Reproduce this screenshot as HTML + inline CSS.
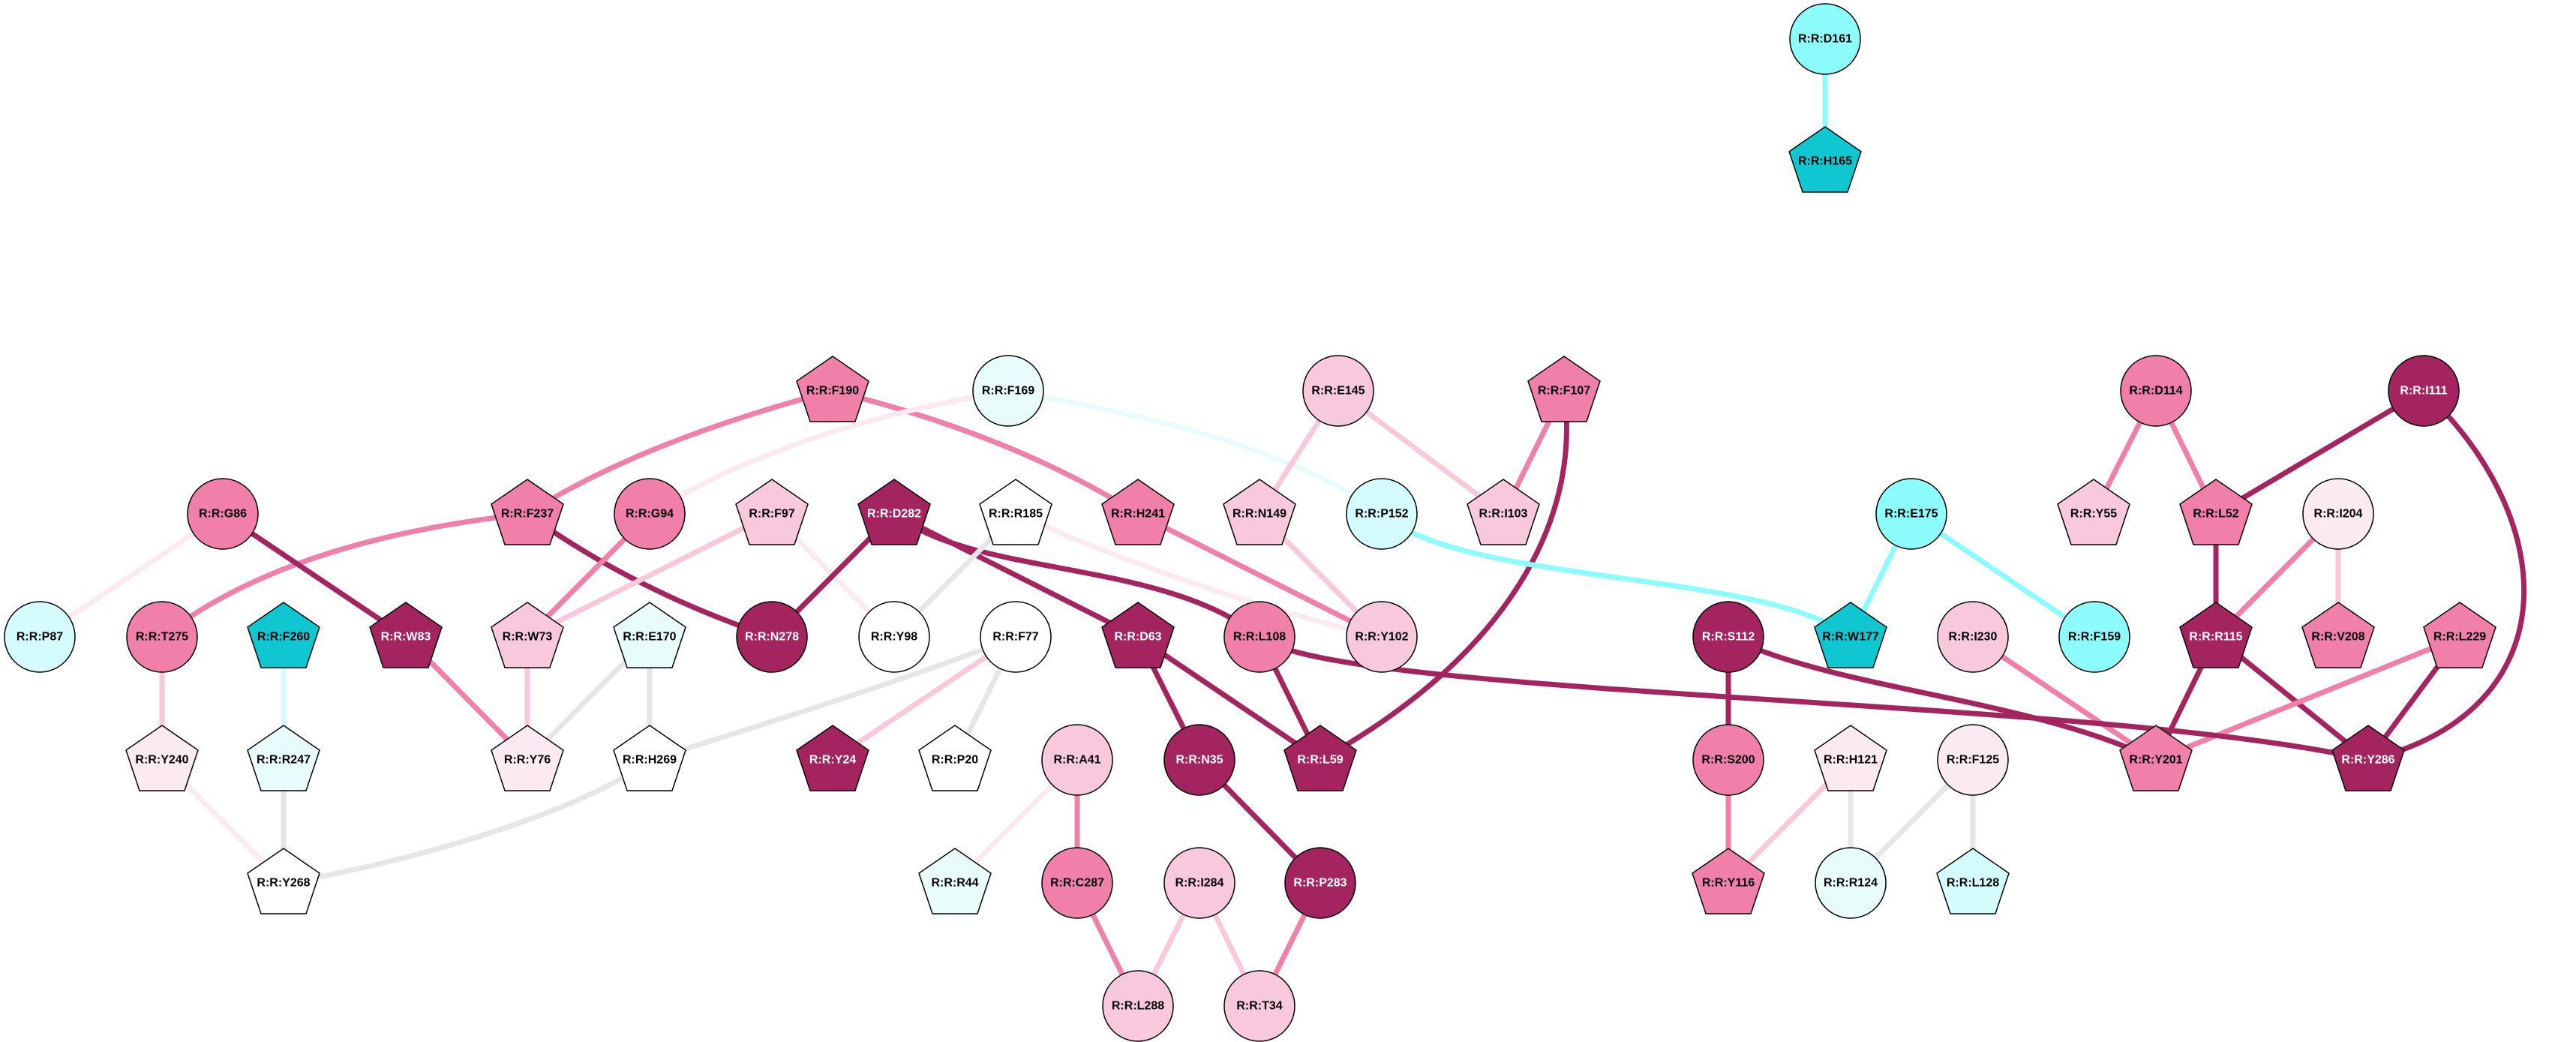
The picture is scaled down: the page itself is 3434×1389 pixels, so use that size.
<!DOCTYPE html>
<html><head><meta charset="utf-8"><style>
html,body{margin:0;padding:0;background:#fff;}
svg{display:block}
text{font-family:"Liberation Sans",Arial,sans-serif;font-weight:bold;font-size:16px;text-anchor:middle;dominant-baseline:central;fill:#000}
.w{fill:#fff}
.n{stroke:#000;stroke-width:1.5}
path,line{fill:none;stroke-linecap:butt}
</style></head><body>
<svg width="3434" height="1389" viewBox="0 0 3434 1389" xmlns="http://www.w3.org/2000/svg">
<defs>
<polygon id="pg" points="0,-46 48,-13 30,41 -30,41 -48,-13"/>
</defs>
<!-- edges -->
<g stroke-width="7">
<path d="M1110,521 Q850,590 703,685" stroke="#F07FA9"/>
<path d="M1110,521 Q1350,580 1517,685" stroke="#F07FA9"/>
<path d="M703,685 Q380,720 216,849" stroke="#F07FA9"/>
<path d="M703,685 Q850,790 1029,849" stroke="#A3245F"/>
<line x1="297" y1="685" x2="541" y2="849" stroke="#A3245F"/>
<line x1="297" y1="685" x2="53" y2="849" stroke="#FBEAF1"/>
<line x1="866" y1="685" x2="703" y2="849" stroke="#F07FA9"/>
<line x1="1029" y1="685" x2="703" y2="849" stroke="#F8C8DC"/>
<line x1="1029" y1="685" x2="1192" y2="849" stroke="#FBEAF1"/>
<path d="M1344,521 Q1050,570 866,685" stroke="#FBEAF1"/>
<path d="M1344,521 Q1700,580 1842,685" stroke="#E8FCFC"/>
<line x1="1192" y1="685" x2="1029" y2="849" stroke="#A3245F"/>
<line x1="1192" y1="685" x2="1517" y2="849" stroke="#A3245F"/>
<path d="M1192,685 C1300,770 1550,745 1679,849" stroke="#A3245F"/>
<line x1="1354" y1="685" x2="1192" y2="849" stroke="#E6E6E6"/>
<path d="M1354,685 Q1602,794 1842,849" stroke="#FBEAF1"/>
<line x1="1517" y1="685" x2="1842" y2="849" stroke="#F07FA9"/>
<line x1="1784" y1="521" x2="1679" y2="685" stroke="#F8C8DC"/>
<line x1="1784" y1="521" x2="2004" y2="685" stroke="#F8C8DC"/>
<line x1="1679" y1="685" x2="1842" y2="849" stroke="#F8C8DC"/>
<line x1="2085" y1="521" x2="2004" y2="685" stroke="#F07FA9"/>
<path d="M2085,521 C2110,700 2000,880 1760,1013" stroke="#A3245F"/>
<path d="M1842,685 C1950,780 2350,760 2467,849" stroke="#8CFCFC"/>
<line x1="2548" y1="685" x2="2467" y2="849" stroke="#8CFCFC"/>
<line x1="2548" y1="685" x2="2792" y2="849" stroke="#8CFCFC"/>
<line x1="2874" y1="521" x2="2791" y2="685" stroke="#F07FA9"/>
<line x1="2874" y1="521" x2="2954" y2="685" stroke="#F07FA9"/>
<line x1="3231" y1="521" x2="2954" y2="685" stroke="#A3245F"/>
<path d="M3231,521 C3420,700 3420,950 3157,1013" stroke="#A3245F"/>
<line x1="2954" y1="685" x2="2954" y2="849" stroke="#A3245F"/>
<line x1="3117" y1="685" x2="2954" y2="849" stroke="#F07FA9"/>
<line x1="3117" y1="685" x2="3117" y2="849" stroke="#F8C8DC"/>
<line x1="2954" y1="849" x2="2874" y2="1013" stroke="#A3245F"/>
<line x1="2954" y1="849" x2="3157" y2="1013" stroke="#A3245F"/>
<line x1="3279" y1="849" x2="2874" y2="1013" stroke="#F07FA9"/>
<line x1="3279" y1="849" x2="3157" y2="1013" stroke="#A3245F"/>
<line x1="2630" y1="849" x2="2874" y2="1013" stroke="#F07FA9"/>
<path d="M2304,849 C2450,920 2700,930 2874,1013" stroke="#A3245F"/>
<line x1="2304" y1="849" x2="2304" y2="1013" stroke="#A3245F"/>
<path d="M1679,849 C1780,930 2800,930 3157,1013" stroke="#A3245F"/>
<line x1="1679" y1="849" x2="1760" y2="1013" stroke="#A3245F"/>
<line x1="1517" y1="849" x2="1760" y2="1013" stroke="#A3245F"/>
<line x1="1517" y1="849" x2="1599" y2="1013" stroke="#A3245F"/>
<line x1="1599" y1="1013" x2="1760" y2="1177" stroke="#A3245F"/>
<line x1="2304" y1="1013" x2="2304" y2="1177" stroke="#F07FA9"/>
<line x1="2467" y1="1013" x2="2304" y2="1177" stroke="#F8C8DC"/>
<line x1="2467" y1="1013" x2="2467" y2="1177" stroke="#E6E6E6"/>
<line x1="2630" y1="1013" x2="2467" y2="1177" stroke="#E6E6E6"/>
<line x1="2630" y1="1013" x2="2630" y2="1177" stroke="#E6E6E6"/>
<line x1="216" y1="849" x2="216" y2="1013" stroke="#F8C8DC"/>
<line x1="378" y1="849" x2="378" y2="1013" stroke="#D4FCFC"/>
<line x1="378" y1="1013" x2="378" y2="1177" stroke="#E6E6E6"/>
<line x1="216" y1="1013" x2="378" y2="1177" stroke="#FBEAF1"/>
<line x1="541" y1="849" x2="703" y2="1013" stroke="#F07FA9"/>
<line x1="703" y1="849" x2="703" y2="1013" stroke="#F8C8DC"/>
<line x1="866" y1="849" x2="703" y2="1013" stroke="#E6E6E6"/>
<line x1="866" y1="849" x2="866" y2="1013" stroke="#E6E6E6"/>
<path d="M866,1013 C780,1080 550,1150 378,1177" stroke="#E6E6E6"/>
<path d="M1354,849 Q1200,910 866,1013" stroke="#E6E6E6"/>
<line x1="1354" y1="849" x2="1110" y2="1013" stroke="#F8C8DC"/>
<line x1="1354" y1="849" x2="1273" y2="1013" stroke="#E6E6E6"/>
<line x1="1436" y1="1013" x2="1273" y2="1177" stroke="#FBEAF1"/>
<line x1="1436" y1="1013" x2="1436" y2="1177" stroke="#F07FA9"/>
<line x1="1436" y1="1177" x2="1517" y2="1341" stroke="#F07FA9"/>
<line x1="1599" y1="1177" x2="1517" y2="1341" stroke="#F8C8DC"/>
<line x1="1599" y1="1177" x2="1679" y2="1341" stroke="#F8C8DC"/>
<line x1="1760" y1="1177" x2="1679" y2="1341" stroke="#F07FA9"/>
<line x1="2433" y1="52" x2="2433" y2="215" stroke="#8CFCFC"/>
</g>
<!-- circles -->
<g class="n">
<circle cx="1344" cy="521" r="47" fill="#E8FCFC"/>
<circle cx="1784" cy="521" r="47" fill="#F8C8DC"/>
<circle cx="2874" cy="521" r="47" fill="#F07FA9"/>
<circle cx="3231" cy="521" r="47" fill="#A3245F"/>
<circle cx="297" cy="685" r="47" fill="#F07FA9"/>
<circle cx="866" cy="685" r="47" fill="#F07FA9"/>
<circle cx="1842" cy="685" r="47" fill="#D4FCFC"/>
<circle cx="2548" cy="685" r="47" fill="#8CFCFC"/>
<circle cx="3117" cy="685" r="47" fill="#FBEAF1"/>
<circle cx="53" cy="849" r="47" fill="#D4FCFC"/>
<circle cx="216" cy="849" r="47" fill="#F07FA9"/>
<circle cx="1029" cy="849" r="47" fill="#A3245F"/>
<circle cx="1192" cy="849" r="47" fill="#FFFFFF"/>
<circle cx="1354" cy="849" r="47" fill="#FFFFFF"/>
<circle cx="1679" cy="849" r="47" fill="#F07FA9"/>
<circle cx="1842" cy="849" r="47" fill="#F8C8DC"/>
<circle cx="2304" cy="849" r="47" fill="#A3245F"/>
<circle cx="2630" cy="849" r="47" fill="#F8C8DC"/>
<circle cx="2792" cy="849" r="47" fill="#8CFCFC"/>
<circle cx="1436" cy="1013" r="47" fill="#F8C8DC"/>
<circle cx="1599" cy="1013" r="47" fill="#A3245F"/>
<circle cx="2304" cy="1013" r="47" fill="#F07FA9"/>
<circle cx="2630" cy="1013" r="47" fill="#FBEAF1"/>
<circle cx="1436" cy="1177" r="47" fill="#F07FA9"/>
<circle cx="1599" cy="1177" r="47" fill="#F8C8DC"/>
<circle cx="1760" cy="1177" r="47" fill="#A3245F"/>
<circle cx="2467" cy="1177" r="47" fill="#E8FCFC"/>
<circle cx="1517" cy="1341" r="47" fill="#F8C8DC"/>
<circle cx="1679" cy="1341" r="47" fill="#F8C8DC"/>
<circle cx="2433" cy="52" r="47" fill="#8CFCFC"/>
</g>
<!-- pentagons -->
<g class="n">
<use href="#pg" x="1110" y="521" fill="#F07FA9"/>
<use href="#pg" x="2085" y="521" fill="#F07FA9"/>
<use href="#pg" x="703" y="685" fill="#F07FA9"/>
<use href="#pg" x="1029" y="685" fill="#F8C8DC"/>
<use href="#pg" x="1192" y="685" fill="#A3245F"/>
<use href="#pg" x="1354" y="685" fill="#FFFFFF"/>
<use href="#pg" x="1517" y="685" fill="#F07FA9"/>
<use href="#pg" x="1679" y="685" fill="#F8C8DC"/>
<use href="#pg" x="2004" y="685" fill="#F8C8DC"/>
<use href="#pg" x="2791" y="685" fill="#F8C8DC"/>
<use href="#pg" x="2954" y="685" fill="#F07FA9"/>
<use href="#pg" x="378" y="849" fill="#10C6D0"/>
<use href="#pg" x="541" y="849" fill="#A3245F"/>
<use href="#pg" x="703" y="849" fill="#F8C8DC"/>
<use href="#pg" x="866" y="849" fill="#E8FCFC"/>
<use href="#pg" x="1517" y="849" fill="#A3245F"/>
<use href="#pg" x="2467" y="849" fill="#10C6D0"/>
<use href="#pg" x="2954" y="849" fill="#A3245F"/>
<use href="#pg" x="3117" y="849" fill="#F07FA9"/>
<use href="#pg" x="3279" y="849" fill="#F07FA9"/>
<use href="#pg" x="216" y="1013" fill="#FBEAF1"/>
<use href="#pg" x="378" y="1013" fill="#E8FCFC"/>
<use href="#pg" x="703" y="1013" fill="#FBEAF1"/>
<use href="#pg" x="866" y="1013" fill="#FFFFFF"/>
<use href="#pg" x="1110" y="1013" fill="#A3245F"/>
<use href="#pg" x="1273" y="1013" fill="#FFFFFF"/>
<use href="#pg" x="1760" y="1013" fill="#A3245F"/>
<use href="#pg" x="2467" y="1013" fill="#FBEAF1"/>
<use href="#pg" x="2874" y="1013" fill="#F07FA9"/>
<use href="#pg" x="3157" y="1013" fill="#A3245F"/>
<use href="#pg" x="378" y="1177" fill="#FFFFFF"/>
<use href="#pg" x="1273" y="1177" fill="#E8FCFC"/>
<use href="#pg" x="2304" y="1177" fill="#F07FA9"/>
<use href="#pg" x="2630" y="1177" fill="#D4FCFC"/>
<use href="#pg" x="2433" y="215" fill="#10C6D0"/>
</g>
<!-- labels -->
<g>
<text x="1110" y="521">R:R:F190</text>
<text x="1344" y="521">R:R:F169</text>
<text x="1784" y="521">R:R:E145</text>
<text x="2085" y="521">R:R:F107</text>
<text x="2874" y="521">R:R:D114</text>
<text x="3231" y="521" class="w">R:R:I111</text>
<text x="297" y="685">R:R:G86</text>
<text x="703" y="685">R:R:F237</text>
<text x="866" y="685">R:R:G94</text>
<text x="1029" y="685">R:R:F97</text>
<text x="1192" y="685" class="w">R:R:D282</text>
<text x="1354" y="685">R:R:R185</text>
<text x="1517" y="685">R:R:H241</text>
<text x="1679" y="685">R:R:N149</text>
<text x="1842" y="685">R:R:P152</text>
<text x="2004" y="685">R:R:I103</text>
<text x="2548" y="685">R:R:E175</text>
<text x="2791" y="685">R:R:Y55</text>
<text x="2954" y="685">R:R:L52</text>
<text x="3117" y="685">R:R:I204</text>
<text x="53" y="849">R:R:P87</text>
<text x="216" y="849">R:R:T275</text>
<text x="378" y="849">R:R:F260</text>
<text x="541" y="849" class="w">R:R:W83</text>
<text x="703" y="849">R:R:W73</text>
<text x="866" y="849">R:R:E170</text>
<text x="1029" y="849" class="w">R:R:N278</text>
<text x="1192" y="849">R:R:Y98</text>
<text x="1354" y="849">R:R:F77</text>
<text x="1517" y="849" class="w">R:R:D63</text>
<text x="1679" y="849">R:R:L108</text>
<text x="1842" y="849">R:R:Y102</text>
<text x="2304" y="849" class="w">R:R:S112</text>
<text x="2467" y="849">R:R:W177</text>
<text x="2630" y="849">R:R:I230</text>
<text x="2792" y="849">R:R:F159</text>
<text x="2954" y="849" class="w">R:R:R115</text>
<text x="3117" y="849">R:R:V208</text>
<text x="3279" y="849">R:R:L229</text>
<text x="216" y="1013">R:R:Y240</text>
<text x="378" y="1013">R:R:R247</text>
<text x="703" y="1013">R:R:Y76</text>
<text x="866" y="1013">R:R:H269</text>
<text x="1110" y="1013" class="w">R:R:Y24</text>
<text x="1273" y="1013">R:R:P20</text>
<text x="1436" y="1013">R:R:A41</text>
<text x="1599" y="1013" class="w">R:R:N35</text>
<text x="1760" y="1013" class="w">R:R:L59</text>
<text x="2304" y="1013">R:R:S200</text>
<text x="2467" y="1013">R:R:H121</text>
<text x="2630" y="1013">R:R:F125</text>
<text x="2874" y="1013">R:R:Y201</text>
<text x="3157" y="1013" class="w">R:R:Y286</text>
<text x="378" y="1177">R:R:Y268</text>
<text x="1273" y="1177">R:R:R44</text>
<text x="1436" y="1177">R:R:C287</text>
<text x="1599" y="1177">R:R:I284</text>
<text x="1760" y="1177" class="w">R:R:P283</text>
<text x="2304" y="1177">R:R:Y116</text>
<text x="2467" y="1177">R:R:R124</text>
<text x="2630" y="1177">R:R:L128</text>
<text x="1517" y="1341">R:R:L288</text>
<text x="1679" y="1341">R:R:T34</text>
<text x="2433" y="52">R:R:D161</text>
<text x="2433" y="215">R:R:H165</text>
</g>
</svg>
</body></html>
